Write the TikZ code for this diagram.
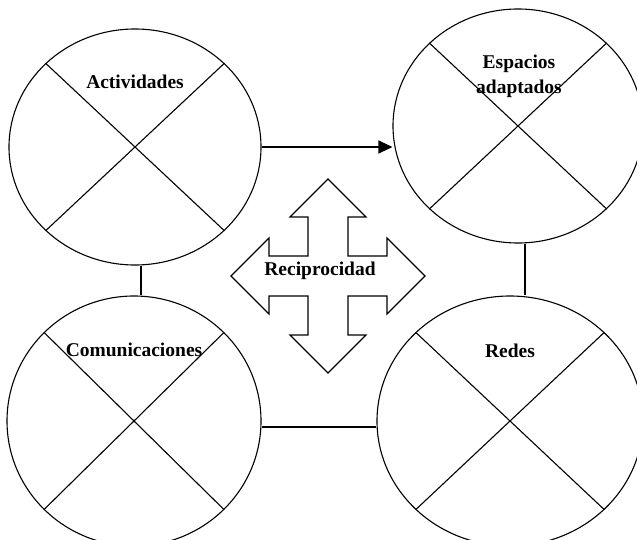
\documentclass[tikz,border=0pt]{standalone}
\usepackage{fontspec}
\setmainfont{Liberation Serif}
\usetikzlibrary{arrows.meta,shapes.geometric}
\tikzset{>={Triangle[length=14pt,width=13pt]}}
\tikzset{
  ring/.style={draw,ellipse,inner sep=0pt},
  tag/.style={font=\fontsize{19.5}{25}\selectfont\bfseries,align=center,inner sep=0pt},
}

\begin{document}
\begin{tikzpicture}[x=1pt,y=-1pt,line width=1.1pt]
    \clip (0,0) rectangle (637,540);
    \node[ring,minimum width=252pt,minimum height=236pt] (act) at (135,147) {};
    \node[ring,minimum width=250pt,minimum height=234pt] (esp) at (518,126) {};
    \node[ring,minimum width=254pt,minimum height=250pt] (com) at (134,421) {};
    \node[ring,minimum width=266pt,minimum height=250pt] (red) at (510,421) {};
    \foreach \c in {act,esp,com,red} {
        \draw (\c.north west) -- (\c.south east);
        \draw (\c.north east) -- (\c.south west);
    }
    \node[tag] (actlbl) at (135,82) {Actividades};
    \node[tag] (esplbl) at (519,76) {Espacios\\adaptados};
    \node[tag] (comlbl) at (134,350) {Comunicaciones};
    \node[tag] (redlbl) at (510,351) {Redes};
    % links
    \draw[->] (act.east) -- (act.east -| esp.west);
    \draw ([xshift=6pt]act.south) -- ([xshift=6pt]act.south |- com.north);
    \draw ([xshift=7pt]esp.south) -- ([xshift=7pt]esp.south |- red.north);
    \draw ([yshift=-6pt]com.east) -- ([yshift=-6pt]com.east -| red.west);
    % cross arrow
    \coordinate (rec) at (328,276);
    \begin{scope}[shift={(rec)}]
        \draw (20,20) -- (20,59) -- (38,59) -- (0,97) -- (-38,59) -- (-20,59)
          -- (-20,20) -- (-59,20) -- (-59,38) -- (-97,0) -- (-59,-38) -- (-59,-20)
          -- (-20,-20) -- (-20,-59) -- (-38,-59) -- (0,-97) -- (38,-59) -- (20,-59)
          -- (20,-20) -- (59,-20) -- (59,-38) -- (97,0) -- (59,38) -- (59,20) -- cycle;
    \end{scope}
    \node[tag] (reclbl) at (320,271) {Reciprocidad};
\end{tikzpicture}
\end{document}
